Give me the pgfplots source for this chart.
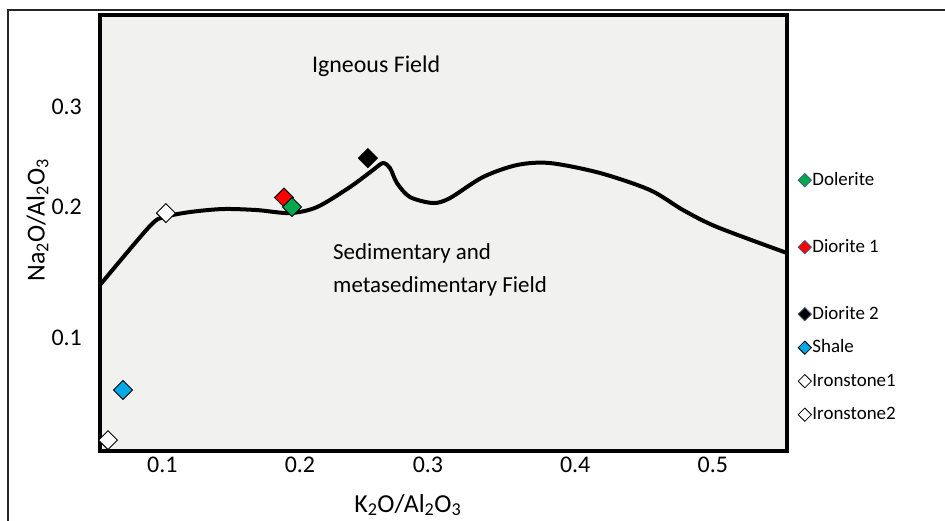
\documentclass[border=0pt]{standalone}
\usepackage{pgfplots}
\pgfplotsset{compat=1.18}
\usepackage{fontspec}
\setmainfont{Carlito}
\definecolor{dolgreen}{RGB}{0,168,80}
\definecolor{shaleblue}{RGB}{0,168,232}
\definecolor{bgspeck}{RGB}{241,241,240}
\definecolor{legborder}{RGB}{70,90,120}
\begin{document}
\begin{tikzpicture}
\useasboundingbox (0,0) rectangle (945bp,521bp);
\fill[white] (0,0) rectangle (945bp,521bp);
\draw[line width=1.3bp, black!85] (8bp,-5bp) -- (8bp,511bp) -- (950bp,511bp);
\begin{axis}[
  name=ax,
  at={(100bp,70bp)}, anchor=south west,
  scale only axis, width=687bp, height=436bp,
  xmin=0.0547, xmax=0.5539, ymin=-0.0023, ymax=0.3752,
  clip=false,
  axis line style={draw=none},
  axis background/.style={fill=bgspeck},
  major tick length=0pt,
  xtick={0.1,0.2,0.293,0.4,0.5}, xticklabels={0.1,0.2,0.3,0.4,0.5},
  ytick={0.0955,0.2089,0.2955}, yticklabels={0.1,0.2,0.3},
  tick label style={font=\fontsize{24}{28}\selectfont, inner sep=0pt},
  xticklabel style={anchor=north, yshift=-6bp},
  yticklabel style={anchor=east, xshift=-18bp},
  /pgf/number format/assume math mode=true,
  xlabel={K\textsubscript{2}O/Al\textsubscript{2}O\textsubscript{3}},
  ylabel={Na\textsubscript{2}O/Al\textsubscript{2}O\textsubscript{3}},
  xlabel style={at={(axis description cs:0.448,-0.124)}, anchor=center, font=\fontsize{26}{30}\selectfont},
  ylabel style={at={(axis description cs:-0.091,0.53)}, anchor=center, font=\fontsize{26}{30}\selectfont},
  legend style={draw=none, fill=none, at={(axis description cs:1.0116,0.6490)}, anchor=north west,
    row sep=13.5bp, font=\fontsize{19}{22}\selectfont,
    nodes={inner sep=1bp, text height=14bp, text depth=4bp}},
  legend cell align=left,
  legend image code/.code={\draw[#1] plot coordinates {(0bp,0bp)};},
]
% thick plot-area frame (drawn first so that markers lie over it)
\draw[line width=3.4bp, black, line join=miter] (rel axis cs:0,0) -- (rel axis cs:1,0) -- (rel axis cs:1,1) -- (rel axis cs:0,1) -- cycle;
% samples
\addplot[forget plot, only marks, mark=square*, mark size=6.7bp, mark options={rotate=45, fill=white, draw=black, line width=0.9bp}]
  coordinates {(0.0605,0.0071)};
\addplot[forget plot, only marks, mark=square*, mark size=6.7bp, mark options={rotate=45, fill=white, draw=black, line width=0.9bp}]
  coordinates {(0.1026,0.2037)};
\addplot[forget plot, only marks, mark=square*, mark size=6.7bp, mark options={rotate=45, fill=shaleblue, draw=black, line width=0.9bp}]
  coordinates {(0.0714,0.0505)};
\addplot[forget plot, only marks, mark=square*, mark size=6.7bp, mark options={rotate=45, fill=red, draw=black, line width=0.9bp}]
  coordinates {(0.1884,0.2171)};
\addplot[forget plot, only marks, mark=square*, mark size=6.7bp, mark options={rotate=45, fill=dolgreen, draw=black, line width=0.9bp}]
  coordinates {(0.1942,0.2089)};
\addplot[forget plot, only marks, mark=square*, mark size=6.7bp, mark options={rotate=45, fill=black, draw=black, line width=0.9bp}]
  coordinates {(0.2494,0.2513)};
% boundary curve
\addplot[forget plot, smooth, tension=0.5, line width=4bp, black] coordinates {
(0.0547,0.1414) (0.0910,0.1925) (0.1019,0.2003) (0.1201,0.2046)
(0.1441,0.2072) (0.1688,0.2063) (0.1927,0.2037) (0.2124,0.2089) (0.2363,0.2262)
(0.2531,0.2410) (0.2603,0.2470) (0.2654,0.2427) (0.2705,0.2297) (0.2799,0.2176)
(0.2967,0.2124) (0.3090,0.2167) (0.3330,0.2349) (0.3577,0.2453) (0.3817,0.2470)
(0.4180,0.2384) (0.4544,0.2236) (0.4784,0.2063) (0.5031,0.1916) (0.5539,0.1691)};
% legend
\addlegendimage{only marks, mark=square*, mark size=4.7bp, mark options={rotate=45, fill=dolgreen, draw=legborder, line width=0.8bp}}
\addlegendentry{Dolerite}
\addlegendimage{empty legend}
\addlegendentry{}
\addlegendimage{only marks, mark=square*, mark size=4.7bp, mark options={rotate=45, fill=red, draw=legborder, line width=0.8bp}}
\addlegendentry{Diorite 1}
\addlegendimage{empty legend}
\addlegendentry{}
\addlegendimage{only marks, mark=square*, mark size=4.7bp, mark options={rotate=45, fill=black, draw=legborder, line width=0.8bp}}
\addlegendentry{Diorite 2}
\addlegendimage{only marks, mark=square*, mark size=4.7bp, mark options={rotate=45, fill=shaleblue, draw=black, line width=0.8bp}}
\addlegendentry{Shale}
\addlegendimage{only marks, mark=square*, mark size=4.7bp, mark options={rotate=45, fill=white, draw=black, line width=0.8bp}}
\addlegendentry{Ironstone1}
\addlegendimage{only marks, mark=square*, mark size=4.7bp, mark options={rotate=45, fill=white, draw=black, line width=0.8bp}}
\addlegendentry{Ironstone2}
% field labels
\node[anchor=base west, inner sep=0pt, font=\fontsize{24}{28}\selectfont] at (axis cs:0.2087,0.3258) {Igneous Field};
\node[anchor=base west, inner sep=0pt, font=\fontsize{23}{28}\selectfont] at (axis cs:0.224,0.1639) {Sedimentary and};
\node[anchor=base west, inner sep=0pt, font=\fontsize{23}{28}\selectfont] at (axis cs:0.224,0.1345) {metasedimentary Field};
\end{axis}
\end{tikzpicture}
\end{document}
